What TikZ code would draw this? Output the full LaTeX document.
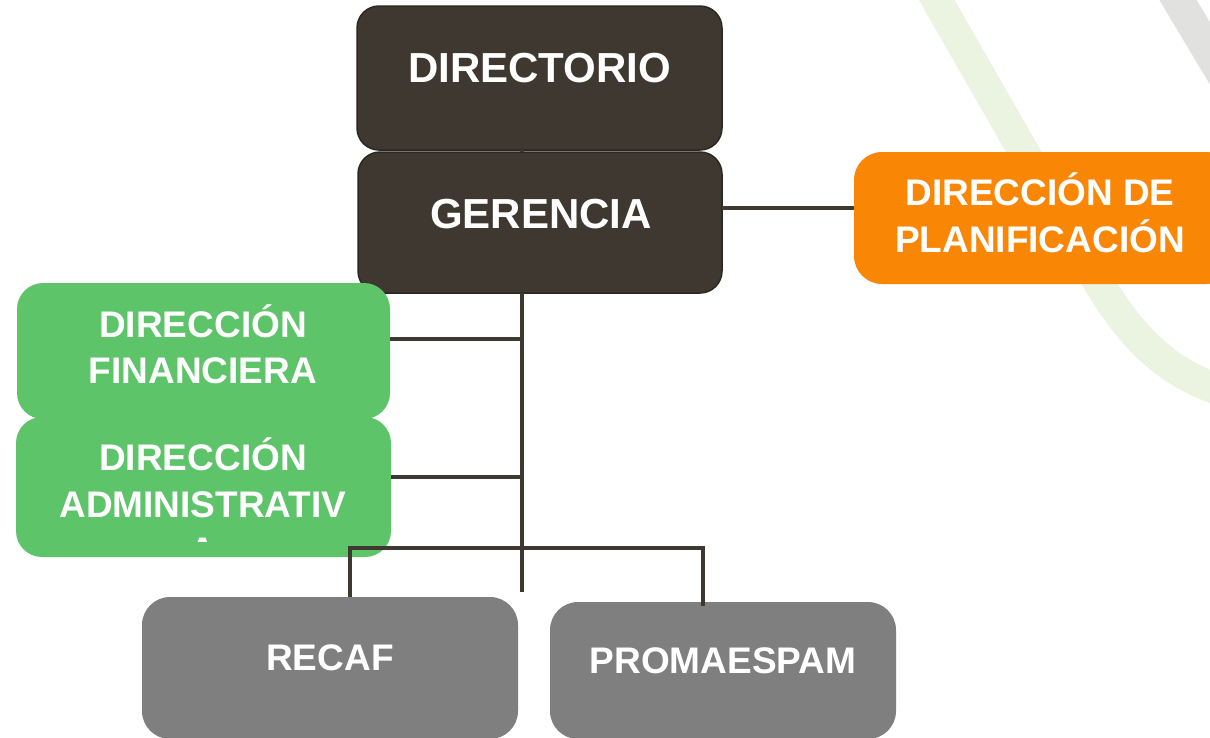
\documentclass[tikz,border=0pt]{standalone}
\usepackage{fontspec}
\setmainfont{Liberation Sans}
\definecolor{darkbrown}{HTML}{3F3830}
\definecolor{darkedge}{HTML}{2B2722}
\definecolor{orangeF}{HTML}{FA8606}
\definecolor{greenF}{HTML}{5DC46A}
\definecolor{grayF}{HTML}{7F7F7F}
\definecolor{bandgreen}{HTML}{EBF3E1}
\definecolor{bandgray}{HTML}{E1E1E0}
\begin{document}
\begin{tikzpicture}[x=1pt,y=-1pt,
  boxbase/.style={rectangle, inner sep=0pt, outer sep=0pt},
  darkbox/.style={boxbase, fill=darkbrown, draw=darkedge, line width=1.5pt, rounded corners=22pt},
  orangebox/.style={boxbase, fill=orangeF, rounded corners=28pt},
  greenbox/.style={boxbase, fill=greenF, rounded corners=26pt},
  graybox/.style={boxbase, fill=grayF, rounded corners=28pt},
  bigtxt/.style={text=white, font=\bfseries\fontsize{42}{50}\selectfont, inner sep=0pt, anchor=base},
  midtxt/.style={text=white, font=\bfseries\fontsize{37}{44}\selectfont, inner sep=0pt, anchor=base},
  conn/.style={draw=darkbrown, line width=3.2pt},
  band/.style={line width=31pt, line cap=butt}
]
\useasboundingbox (0,0) rectangle (1210,737);
\begin{scope}
\clip (0,0) rectangle (1210,737);
% background bands
\draw[band, draw=bandgreen] (931,-10) -- (1100,285) .. controls (1140,350) and (1175,375) .. (1225,392);
\draw[band, draw=bandgray, line width=32pt] (1172,-10) -- (1245,112);

% boxes
\node[darkbox, minimum width=365, minimum height=144] (dir) at (539.5,78) {};
\node[darkbox, minimum width=364, minimum height=141] (ger) at (540,222.5) {};
\node[orangebox, minimum width=380, minimum height=132] (plan) at (1044,218) {};
\node[greenbox, minimum width=373, minimum height=136] (fin) at (203.5,351) {};
\node[greenbox, minimum width=375, minimum height=140] (adm) at (203.5,487) {};
\node[graybox, minimum width=376, minimum height=142] (rec) at (330,668) {};
\node[graybox, minimum width=346, minimum height=137] (pro) at (723,670.5) {};

% texts
\node[bigtxt] (dirT) at (539.5,82) {DIRECTORIO};
\node[bigtxt] (gerT) at (541,228) {GERENCIA};
\node[midtxt] (planT1) at (1040,205) {DIRECCIÓN DE};
\node[midtxt] (planT2) at (1040,252) {PLANIFICACIÓN};
\node[midtxt] (finT1) at (203,337) {DIRECCIÓN};
\node[midtxt] (finT2) at (203,383) {FINANCIERA};
\node[midtxt] (admT1) at (203,470) {DIRECCIÓN};
\node[midtxt] (admT2) at (203,517) {ADMINISTRATIV};
\begin{scope}
\clip (0,0) rectangle (1210,541);
\node[midtxt] (admT3) at (203,563) {A};
\end{scope}
\node[midtxt] (recT) at (330,670) {RECAF};
\node[midtxt] (proT) at (723,673) {PROMAESPAM};

% connectors
\coordinate (tk) at (522,0);
\coordinate (tkend) at (522,592);
\coordinate (busL) at (350,548);
\coordinate (busR) at (703,548);
\draw[conn] (dir.south -| tk) -- (ger.north -| tk);
\draw[conn] (ger.east |- 0,208) -- (plan.west |- 0,208);
\draw[conn] (ger.south -| tk) -- (tkend);
\draw[conn] (fin.east |- 0,339) -- (tk |- 0,339);
\draw[conn] (adm.east |- 0,477) -- (tk |- 0,477);
\draw[conn] (rec.north -| busL) -- (busL) -- (busR) -- ([yshift=-4pt]pro.north -| busR);
\end{scope}
\end{tikzpicture}
\end{document}
